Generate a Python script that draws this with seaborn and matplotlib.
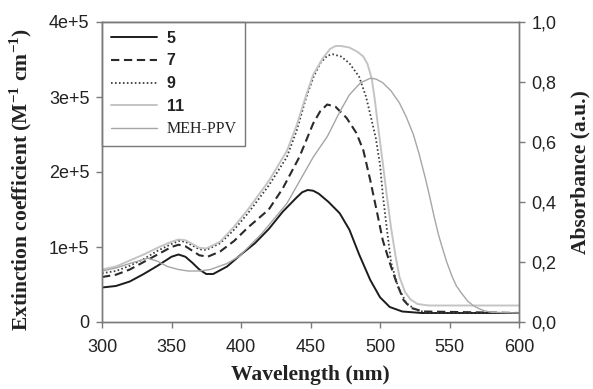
import matplotlib
matplotlib.use("Agg")
import matplotlib.pyplot as plt
import seaborn as sns
import pandas as pd

# Absorption spectra (extinction coefficient, M^-1 cm^-1) of the oligomers 5, 7, 9, 11 and MEH-PPV
wl_5 = [300, 310, 320, 330, 340, 350, 355, 360, 365, 370, 375, 380, 390, 400, 410, 420,
        430, 440, 444, 448, 452, 456, 463, 471, 478, 485, 493, 500, 507, 516, 530, 600]
ext_5 = [46000, 48000, 54000, 64000, 75000, 87000, 90000, 87000, 79000, 70000, 64000, 64000,
         74000, 90000, 105000, 124000, 147000, 166000, 173000, 176000, 175000, 171000, 160000,
         145000, 123000, 90000, 56000, 33000, 20000, 14000, 12000, 12000]

wl_7 = [300, 310, 320, 330, 340, 350, 355, 360, 365, 370, 376, 385, 395, 405, 420, 430, 442,
        452, 457, 462, 468, 476, 483, 488, 493, 498, 502, 507, 512, 517, 522, 531, 600]
ext_7 = [60000, 63000, 70000, 80000, 90000, 100000, 103000, 101000, 95000, 89000, 87000,
         94000, 108000, 126000, 150000, 178000, 220000, 265000, 281000, 290000, 287000,
         272000, 252000, 229000, 189000, 145000, 109000, 79000, 52000, 29000, 19000,
         14000, 12000]

wl_9 = [300, 310, 320, 330, 340, 350, 355, 360, 365, 370, 375, 385, 395, 405, 420, 433, 440,
        447, 452, 457, 462, 466, 472, 478, 485, 490, 494, 497, 500, 502, 505, 508, 513, 519,
        526, 535, 600]
ext_9 = [65000, 68000, 75000, 84000, 95000, 104000, 108000, 107000, 102000, 97000, 96000,
         105000, 123000, 145000, 182000, 220000, 255000, 300000, 326000, 345000, 355000,
         357000, 354000, 345000, 327000, 300000, 269000, 245000, 210000, 170000, 123000,
         79000, 47000, 25000, 16000, 12000, 12000]

wl_11 = [300, 310, 320, 330, 340, 350, 355, 360, 365, 370, 375, 385, 395, 405, 420, 433, 440,
         447, 452, 459, 464, 468, 472, 478, 484, 488, 491, 494, 496, 499, 502, 505, 508, 511,
         514, 518, 522, 527, 535, 600]
ext_11 = [70000, 74000, 82000, 90000, 99000, 107000, 110000, 109000, 104000, 99000, 98000,
          107000, 127000, 150000, 188000, 228000, 262000, 303000, 330000, 352000, 364000,
          368000, 368000, 366000, 360000, 354000, 344000, 325000, 300000, 255000, 212000,
          167000, 125000, 90000, 60000, 40000, 30000, 24000, 22000, 22000]

wl_meh = [300, 310, 320, 333, 340, 347, 355, 362, 370, 378, 390, 399, 415, 433, 452, 462, 471,
          478, 486, 493, 497, 502, 508, 514, 519, 524, 528, 533, 536, 539, 542, 545, 548, 552,
          555, 558, 563, 567, 571, 575, 580, 600]
ext_meh = [68000, 72000, 78000, 85000, 81000, 74000, 70000, 68000, 68000, 70000, 78000,
           88000, 118000, 158000, 220000, 247000, 280000, 303000, 319000, 325000, 324000,
           319000, 308000, 292000, 273000, 250000, 225000, 189000, 165000, 140000, 117000,
           98000, 80000, 60000, 48000, 40000, 28000, 22000, 18000, 15000, 13000, 12000]

labels = ["5", "7", "9", "11", "MEH-PPV"]
x_ticks = [300, 350, 400, 450, 500, 550, 600]
left_ticks = [0, 100000, 200000, 300000, 400000]
left_tick_labels = ["0", "1e+5", "2e+5", "3e+5", "4e+5"]
right_ticks = [0.0, 0.2, 0.4, 0.6, 0.8, 1.0]
right_tick_labels = ["0,0", "0,2", "0,4", "0,6", "0,8", "1,0"]

sns.set_style("ticks")
plt.rcParams["font.family"] = ["Liberation Sans", "DejaVu Sans"]
plt.rcParams["mathtext.fontset"] = "custom"
plt.rcParams["mathtext.rm"] = "Liberation Serif:bold"
plt.rcParams["mathtext.bf"] = "Liberation Serif:bold"

fig = plt.figure(figsize=(5.93, 3.89), dpi=100)
ax = fig.add_axes([102 / 593, 67 / 389, 417 / 593, 300 / 389])

series = [
    (wl_5, ext_5, dict(color="#1c1c1c", lw=1.4, linestyle="-")),
    (wl_7, ext_7, dict(color="#2a2a2a", lw=1.5, dashes=(4, 2.2))),
    (wl_9, ext_9, dict(color="#3c3c3c", lw=1.3, dashes=(0.9, 1.3))),
    (wl_11, ext_11, dict(color="#c4c4c4", lw=1.4, linestyle="-")),
    (wl_meh, ext_meh, dict(color="#a6a6a6", lw=1.0, linestyle="-")),
]
for (wl, ext, style), lab in zip(series, labels):
    df = pd.DataFrame({"wavelength": wl, "ext": ext})
    kw = dict(style)
    dashes = kw.pop("dashes", None)
    line_ax = sns.lineplot(data=df, x="wavelength", y="ext", ax=ax, label=lab, **kw)
    if dashes is not None:
        line_ax.lines[-1].set_dashes(dashes)

ax.set_xlim(300, 600)
ax.set_ylim(0, 400000)
ax.set_xticks(x_ticks)
ax.set_xticklabels([str(t) for t in x_ticks])
ax.set_yticks(left_ticks)
ax.set_yticklabels(left_tick_labels)

spine_col = "#7a7a7a"
for s in ax.spines.values():
    s.set_color(spine_col)
    s.set_linewidth(1.0)
    s.set_visible(True)
ax.tick_params(axis="both", direction="out", length=4, width=1.0, color=spine_col,
               labelsize=13, labelcolor="#222222", pad=5)
ax.tick_params(axis="x", pad=8)

ax.set_xlabel("Wavelength (nm)", fontsize=15.5, fontweight="bold",
              family=["Liberation Serif"], color="#222222", labelpad=7)
ax.set_ylabel(r"Extinction coefficient (M$^{\mathbf{-1}}$ cm$^{\mathbf{-1}}$)", fontsize=15.5,
              fontweight="bold", family=["Liberation Serif"], color="#222222")
ax.yaxis.set_label_coords(-0.162, 0.475)

ax2 = ax.twinx()
ax2.set_ylim(0, 1.0)
ax2.set_yticks(right_ticks)
ax2.set_yticklabels(right_tick_labels)
for s in ax2.spines.values():
    s.set_color(spine_col)
    s.set_linewidth(1.0)
ax2.tick_params(axis="y", direction="out", length=4, width=1.0, color=spine_col,
                labelsize=13, labelcolor="#222222", pad=5)
ax2.set_ylabel("Absorbance (a.u.)", fontsize=15.5, fontweight="bold",
               family=["Liberation Serif"], color="#222222", labelpad=10)

leg = ax.legend(loc="upper left", bbox_to_anchor=(0, 1), borderaxespad=0, frameon=True,
                fancybox=False, edgecolor="#555555", fontsize=11.5, handlelength=2.9,
                handletextpad=0.6, labelspacing=0.48, borderpad=0.55)
leg.get_frame().set_linewidth(1.0)
for i, t in enumerate(leg.get_texts()):
    if labels[i] == "MEH-PPV":
        t.set_fontfamily(["Liberation Serif"])
        t.set_fontweight("normal")
    else:
        t.set_fontweight("bold")
    t.set_color("#222222")
for h, (_, _, style) in zip(leg.get_lines(), series):
    if "dashes" in style:
        h.set_dashes(style["dashes"])

fig.savefig("out.png", dpi=100)
